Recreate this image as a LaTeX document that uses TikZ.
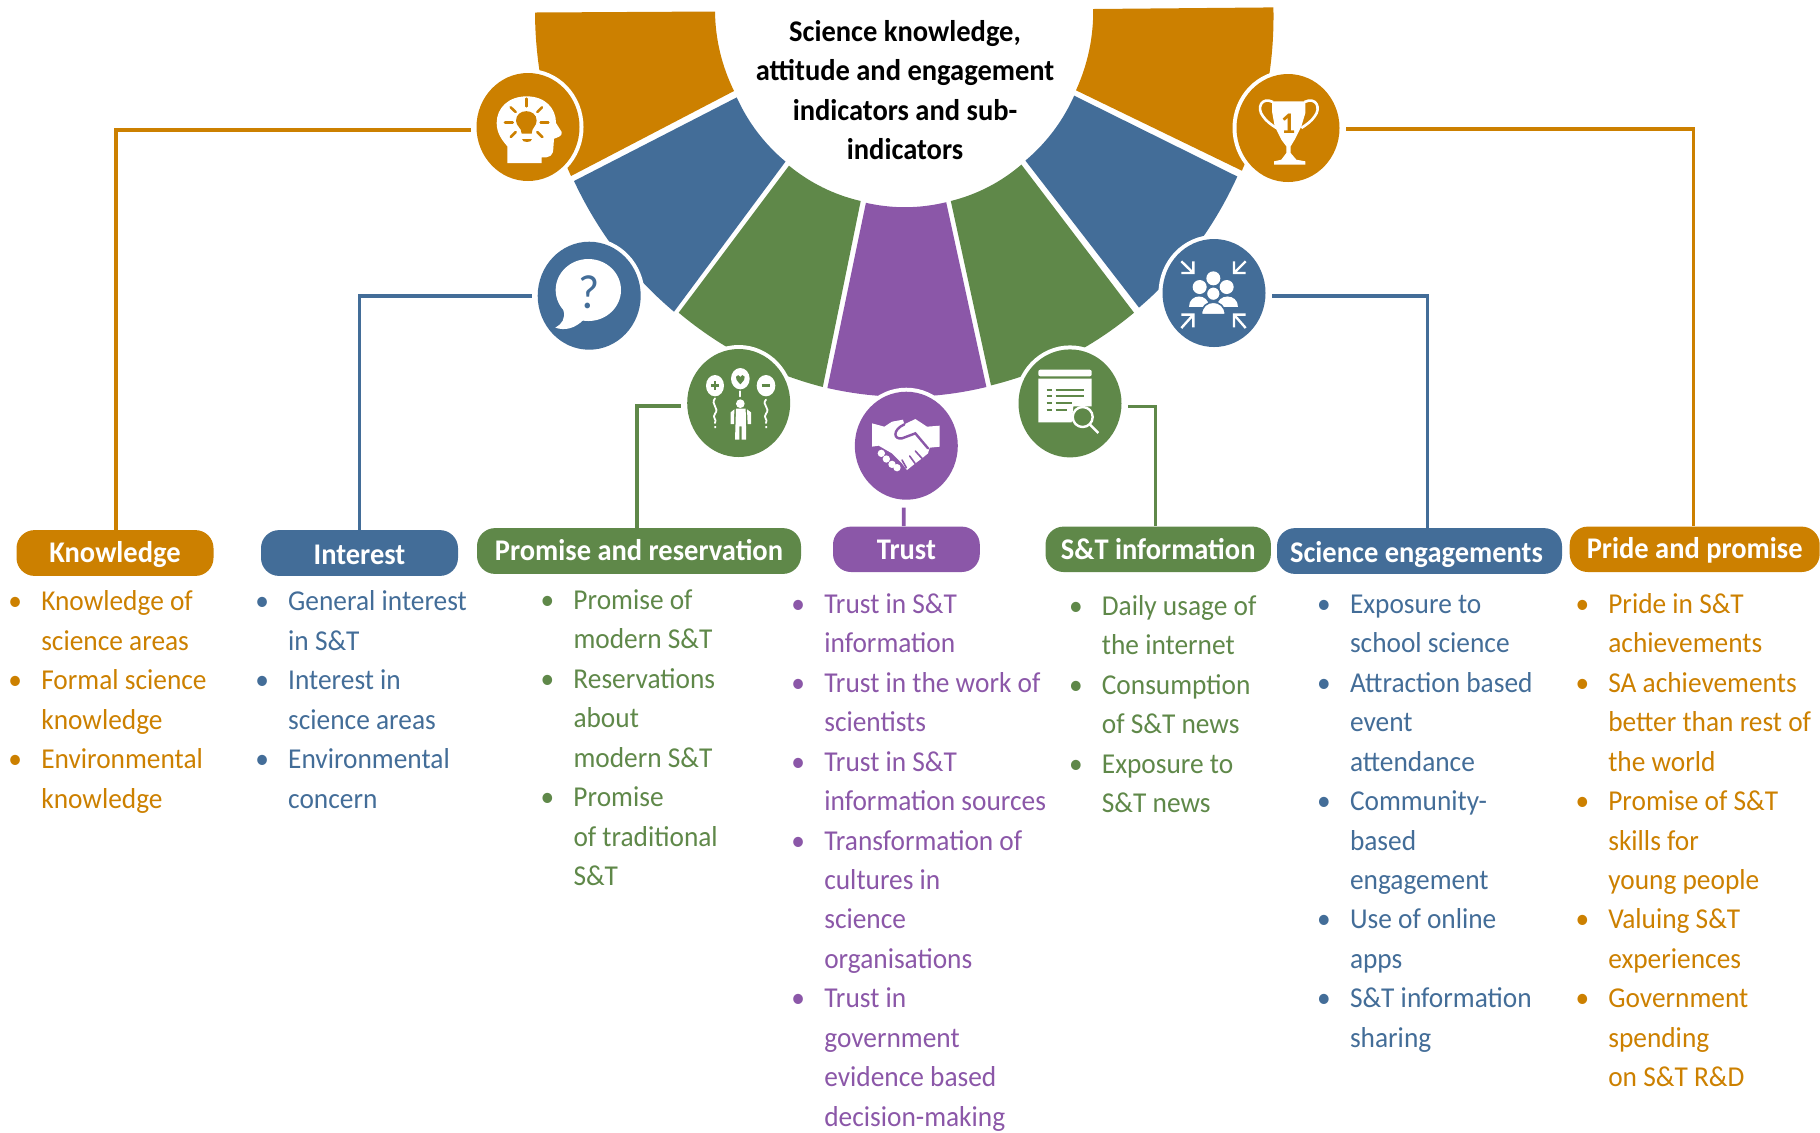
\documentclass[tikz,border=0pt]{standalone}
\usepackage{fontspec}
\setmainfont[FakeStretch=0.95]{Carlito}
\usetikzlibrary{calc,shapes.geometric}
\definecolor{cOr}{HTML}{CC8000}
\definecolor{cBl}{HTML}{436D98}
\definecolor{cGr}{HTML}{5F8849}
\definecolor{cPu}{HTML}{8B57A8}
\newcommand{\bl}{\leavevmode\llap{\makebox[0pt][c]{\textbullet}\hspace{13pt}}}
\newcommand{\fanwedge}[5]{%
  \coordinate (cA) at ($(O)!1.05!($#3!.5!#4$)$);
  \coordinate (cB) at ($(O)!1.05!($#5!.5!#2$)$);
  \fill[#1] #2 -- #3 .. controls ($#3!.667!(cA)$) and ($#4!.667!(cA)$) .. #4 -- #5 .. controls ($#5!.667!(cB)$) and ($#2!.667!(cB)$) .. cycle;}
\tikzset{
  icon/.style={ellipse,fill=#1,minimum width=51.5pt,minimum height=54pt,inner sep=0pt,outer sep=0pt},
  ring/.style={ellipse,fill=white,minimum width=55.5pt,minimum height=58pt,inner sep=0pt},
  pill/.style={fill=#1,rounded corners=9pt,inner sep=0pt,text=white,text height=12.3pt,text depth=2.5pt,font=\fontsize{15}{16}\selectfont\bfseries},
  listtext/.style={anchor=north west,inner sep=0pt,outer sep=0pt,align=left,text=#1,font=\fontsize{14.4}{19.72}\selectfont},
  link/.style={draw=#1,line width=1.9pt},
  cropicon/.style={x=0.16667pt,y=-0.16667pt},
  wstroke/.style={draw=white,line width=1.2pt,line cap=round,line join=round},
}
\begin{document}
\begin{tikzpicture}[x=0.5pt,y=-0.5pt]
\useasboundingbox (0,0) rectangle (1820,1132);
\coordinate (O) at (904,15);
% sectors
\fanwedge{cOr}{(715,11.5)}{(535,12.5)}{(571,176)}{(734,91)}
\fanwedge{cBl}{(736.7,97.4)}{(574,181)}{(674,311.7)}{(785.5,161.6)}
\fanwedge{cGr}{(789,165.7)}{(678.7,312.7)}{(822.8,387)}{(860.7,201)}
\fanwedge{cPu}{(865.9,202.8)}{(827.4,388)}{(986.4,387)}{(946.2,202.2)}
\fanwedge{cGr}{(950.8,201)}{(991,385.4)}{(1134,312.7)}{(1021.4,164.6)}
\fanwedge{cBl}{(1025.4,160.6)}{(1139,307.6)}{(1237.3,176.5)}{(1074.2,95.7)}
\fanwedge{cOr}{(1076,90.3)}{(1241.9,170.7)}{(1273.4,7.4)}{(1093.2,9)}
% title
\node[align=center,inner sep=0pt,font=\fontsize{15}{19.72}\selectfont\bfseries] (title) at (905,90)
  {Science knowledge,\\attitude and engagement\\indicators and sub-\\indicators};
% rings + icon discs
\foreach \x/\y in {528/127,589.2/295.7,738.7/403,906.3/445.7,1070/403.4,1214/293,1288/128}
  \node[ring] at (\x,\y) {};
\node[icon=cOr] (iK) at (528,127) {};
\node[icon=cBl] (iI) at (589.2,295.7) {};
\node[icon=cGr] (iP) at (738.7,403) {};
\node[icon=cPu] (iT) at (906.3,445.7) {};
\node[icon=cGr] (iS) at (1070,403.4) {};
\node[icon=cBl] (iE) at (1214,293) {};
\node[icon=cOr] (iD) at (1288,128) {};
% pills
\node[pill=cOr,minimum width=98.5pt,minimum height=22.9pt] (pK) at (115,553) {Knowledge};
\node[pill=cBl,minimum width=98.5pt,minimum height=22.9pt] (pI) at (359.5,553) {\raisebox{-.7pt}{Interest}};
\node[pill=cGr,minimum width=162pt,minimum height=22.9pt] (pP) at (639,551) {Promise and reservation};
\node[pill=cPu,minimum width=73.4pt,minimum height=22.7pt] (pT) at (906.4,549.3) {Trust};
\node[pill=cGr,minimum width=112.7pt,minimum height=22.7pt] (pS) at (1158.2,549.3) {S\&T information};
\node[pill=cBl,minimum width=142.5pt,minimum height=22.9pt] (pE) at (1419.5,551) {\hspace*{-3pt}\raisebox{-.7pt}{Science engagements}};
\node[pill=cOr,minimum width=125pt,minimum height=22.7pt] (pD) at (1694.7,549.3) {\raisebox{.3pt}{Pride and promise}};
% connectors
\draw[link=cOr] ([xshift=.4pt]pK.north) |- ([xshift=-3pt,yshift=-1.3pt]iK.west);
\draw[link=cBl] (pI.north) |- ([xshift=-3pt]iI.west);
\draw[link=cGr] ([xshift=-1pt]pP.north) |- ([xshift=-3pt,yshift=-1.6pt]iP.west);
\draw[link=cPu] ([xshift=-1.3pt]pT.north) -- ([xshift=-1.3pt,yshift=-4pt]iT.south);
\draw[link=cGr] ([xshift=-1.4pt]pS.north) |- ([xshift=3pt,yshift=-1.5pt]iS.east);
\draw[link=cBl] ([xshift=4pt]pE.north) |- ([xshift=3pt,yshift=-1.5pt]iE.east);
\draw[link=cOr] ([xshift=-.6pt]pD.north) |- ([xshift=3pt,yshift=-.4pt]iD.east);
% lists
\node[listtext=cOr] (lK) at (41.3,583.3) {\strut\bl Knowledge of\\science areas\\\bl Formal science\\knowledge\\\bl Environmental\\knowledge};
\node[listtext=cBl] (lI) at (288.2,583.3) {\strut\bl General interest\\in S\&T\\\bl Interest in\\science areas\\\bl Environmental\\concern};
\node[listtext=cGr] (lP) at (573.5,581.8) {\strut\bl Promise of\\modern S\&T\\\bl Reservations\\about\\modern S\&T\\\bl Promise\\of traditional\\S\&T};
\node[listtext=cPu] (lT) at (824.3,585.8) {\strut\bl Trust in S\&T\\information\\\bl Trust in the work of\\scientists\\\bl Trust in S\&T\\information sources\\\bl Transformation of\\cultures in\\science\\organisations\\\bl Trust in\\government\\evidence based\\decision-making};
\node[listtext=cGr] (lS) at (1101.9,587.8) {\strut\bl Daily usage of\\the internet\\\bl Consumption\\of S\&T news\\\bl Exposure to\\S\&T news};
\node[listtext=cBl] (lE) at (1350,585.8) {\strut\bl Exposure to\\school science\\\bl Attraction based\\event\\attendance\\\bl Community-\\based\\engagement\\\bl Use of online\\apps\\\bl S\&T information\\sharing};
\node[listtext=cOr] (lD) at (1608.3,585.8) {\strut\bl Pride in S\&T\\achievements\\\bl SA achievements\\better than rest of\\the world\\\bl Promise of S\&T\\skills for\\young people\\\bl Valuing S\&T\\experiences\\\bl Government\\spending\\on S\&T R\&D};
% head icon
\begin{scope}[shift={(470,68)},cropicon]
\fill[white] (112,285) -- (215,285) -- (215,268) .. controls (240,270) and (250,262) .. (250,240) -- (252,212) .. controls (262,208) and (278,205) .. (275,192) -- (258,165) .. controls (258,120) and (225,85) .. (170,85) .. controls (115,85) and (80,120) .. (80,165) .. controls (80,195) and (95,215) .. (112,235) -- cycle;
\fill[cOr] (155,197) .. controls (155,178) and (138,175) .. (138,158) .. controls (138,120) and (200,120) .. (200,158) .. controls (200,175) and (185,178) .. (185,197) -- cycle;
\fill[cOr] (155,212) -- (185,212) .. controls (185,225) and (155,225) .. (155,212) -- cycle;
\foreach \a/\b/\c/\d in {170/92/170/115,122/118/137/132,216/118/202/132,105/163/128/163,212/163/235/163,122/207/137/192,217/207/202/192}
  \draw[cOr,line width=1.3pt,line cap=round] (\a,\b) -- (\c,\d);
\end{scope}
% question icon
\begin{scope}[shift={(530,235)},cropicon]
\fill[white] (175,165) ellipse [x radius=98,y radius=93];
\fill[white] (100,225) .. controls (108,250) and (95,268) .. (76,278) .. controls (105,288) and (135,280) .. (160,255) -- cycle;
\node[text=cBl,inner sep=0pt,font=\fontsize{24}{24}\selectfont] (qm) at (176,172) {?};
\end{scope}
% balloons icon
\begin{scope}[shift={(680,343)},cropicon]
\fill[white] (105,128) ellipse [x radius=27,y radius=32];
\fill[white] (181,107) ellipse [x radius=28,y radius=32];
\fill[white] (258,128) ellipse [x radius=28,y radius=32];
\draw[cGr,line width=1.2pt] (92,128) -- (118,128) (105,115) -- (105,141);
\draw[cGr,line width=1.2pt] (245,128) -- (271,128);
\fill[cGr] (181,124) .. controls (170,112) and (166,107) .. (168,101) .. controls (171,94) and (179,95) .. (181,102) .. controls (183,95) and (191,94) .. (194,101) .. controls (196,107) and (192,112) .. (181,124) -- cycle;
\draw[wstroke,line width=.9pt] (105,166) .. controls (90,185) and (120,195) .. (105,212) .. controls (95,225) and (112,228) .. (105,240);
\draw[wstroke,line width=.9pt] (258,170) .. controls (243,185) and (273,195) .. (258,212) .. controls (248,225) and (265,228) .. (258,240);
\fill[white] (103,249) rectangle (108,255) (256,249) rectangle (261,255);
\draw[wstroke,line width=.9pt] (181,145) -- (181,160);
\fill[white] (181,182) circle [radius=13];
\fill[white] (168,197) -- (197,197) -- (198,250) -- (198,290) -- (185,290) -- (185,250) -- (178,250) -- (178,290) -- (165,290) -- cycle;
\fill[white] (163,199) -- (152,208) -- (152,243) -- (162,243) -- cycle;
\fill[white] (201,199) -- (213,208) -- (213,243) -- (203,243) -- cycle;
\end{scope}
% handshake icon
\begin{scope}[shift={(847,385)},cropicon]
\fill[white] (75,115) -- (112,125) -- (135,110) -- (168,104) -- (172,118) -- (205,102) -- (240,125) -- (278,122) -- (278,185) -- (248,188) -- (243,205) -- (225,220) -- (205,235) -- (180,255) -- (165,235) -- (135,205) -- (95,182) -- (75,185) -- cycle;
\foreach \a/\b in {103/205,118/222,135/238,150/248} \fill[white] (\a,\b) circle [radius=11];
\draw[cPu,line width=1.2pt,line cap=round] (172,118) .. controls (135,135) and (140,165) .. (165,160) -- (205,145) -- (243,190);
\draw[cPu,line width=.8pt,line cap=round] (165,225) -- (178,248) (188,213) -- (204,235) (205,198) -- (225,220);
\end{scope}
% document icon
\begin{scope}[shift={(1010,343)},cropicon]
\fill[white,rounded corners=1pt] (85,100) -- (85,80) -- (245,80) -- (245,100) -- cycle;
\fill[white] (85,107) -- (245,107) -- (245,190) -- (190,190) -- (185,238) -- (85,238) -- cycle;
\draw[white,fill=cGr,line width=1.2pt] (218,222) circle [radius=30];
\draw[white,line width=1.2pt] (240,245) -- (265,270);
\draw[cGr,line width=1pt] (110,142) -- (125,142) (137,142) -- (222,142) (110,160) -- (125,160) (137,160) -- (222,160) (110,180) -- (125,180) (137,180) -- (187,180) (110,200) -- (125,200) (137,200) -- (172,200);
\end{scope}
% group icon
\begin{scope}[shift={(1154,233)},cropicon]
\draw[wstroke,line cap=butt,line join=miter] (82,85) -- (118,120) (118,85) -- (118,120) -- (82,120);
\draw[wstroke,line cap=butt,line join=miter] (275,85) -- (240,120) (240,85) -- (240,120) -- (275,120);
\draw[wstroke,line cap=butt,line join=miter] (82,285) -- (118,245) (82,245) -- (118,245) -- (118,283);
\draw[wstroke,line cap=butt,line join=miter] (275,285) -- (240,245) (240,283) -- (240,245) -- (275,245);
\fill[white] (178,136) circle [radius=21];
\fill[white] (137,162) circle [radius=21];
\fill[white] (218,162) circle [radius=21];
\fill[white] (105,222) .. controls (105,180) and (165,180) .. (165,222) -- cycle;
\fill[white] (190,222) .. controls (190,180) and (252,180) .. (252,222) -- cycle;
\draw[cBl,fill=white,line width=.8pt] (178,182) circle [radius=21];
\draw[cBl,fill=white,line width=.8pt] (142,245) .. controls (142,195) and (214,195) .. (214,245) -- cycle;
\end{scope}
% trophy icon
\begin{scope}[shift={(1228,68)},cropicon]
\fill[white] (132,100) -- (232,100) -- (232,135) -- (220,175) -- (200,215) -- (188,235) -- (188,255) -- (205,275) -- (232,280) -- (232,290) -- (138,290) -- (138,280) -- (160,275) -- (175,255) -- (175,235) -- (160,215) -- (140,175) -- (132,130) -- cycle;
\draw[white,line width=1.3pt] (135,102) .. controls (100,85) and (85,120) .. (105,145) .. controls (115,160) and (130,170) .. (145,180);
\draw[white,line width=1.3pt] (229,102) .. controls (265,85) and (280,120) .. (260,145) .. controls (250,160) and (235,170) .. (220,180);
\node[text=cOr,inner sep=0pt,font=\fontsize{15}{15}\selectfont\bfseries] (one) at (180,168) {1};
\end{scope}
\end{tikzpicture}
\end{document}
